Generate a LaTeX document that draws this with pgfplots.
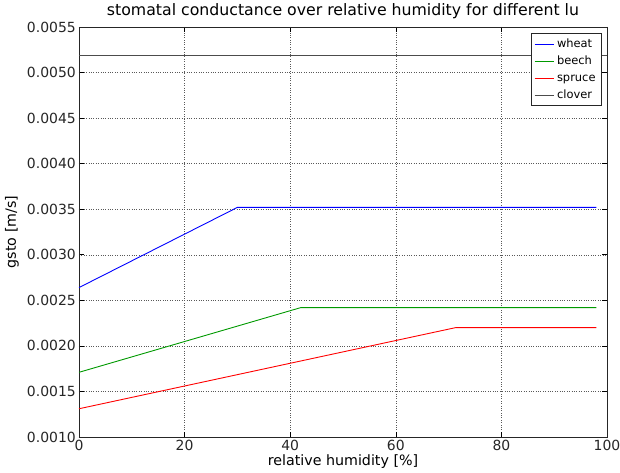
\documentclass[border=0pt]{standalone}
\usepackage{pgfplots}
\pgfplotsset{compat=1.18}
\usepackage{fontspec}
\setmainfont{DejaVu Sans}
\begin{document}
\begin{tikzpicture}
\path[use as bounding box] (-79bp,-36bp) rectangle (541bp,437bp);
\begin{axis}[
  at={(0,0)}, anchor=south west,
  scale only axis,
  width=528bp, height=410bp,
  xmin=0, xmax=100, ymin=0.0010, ymax=0.0055,
  xtick={0,20,40,60,80,100},
  ytick={0.0010,0.0015,0.0020,0.0025,0.0030,0.0035,0.0040,0.0045,0.0050,0.0055},
  scaled y ticks=false,
  yticklabel style={inner sep=3bp, /pgf/number format/.cd, fixed, fixed zerofill, precision=4},
  /pgf/number format/assume math mode=true,
  tick label style={font=\fontsize{14}{16}\selectfont, color=black!85},
  xticklabel style={inner sep=2.5bp},
  tick align=inside,
  major tick length=5bp,
  tick style={black, line width=0.6pt},
  grid=major,
  major grid style={black!65, dotted, line width=0.5pt},
  axis line style={black!85, line width=0.9pt},
  title={stomatal conductance over relative humidity for different lu},
  title style={font=\fontsize{15.8}{18}\selectfont, at={(axis description cs:0.5,1)}, anchor=base, yshift=6bp},
  xlabel={relative humidity [\%]},
  ylabel={gsto [m/s]},
  label style={font=\fontsize{14.3}{16}\selectfont},
  xlabel style={at={(axis description cs:0.5,0)}, anchor=base, yshift=-29bp},
  ylabel style={at={(axis description cs:0,0.5)}, anchor=center, yshift=67bp},
  legend style={font=\fontsize{11.5}{13}\selectfont, draw=black!85, line width=0.8pt,
     inner xsep=3bp, inner ysep=2bp, row sep=0pt,
     at={(axis description cs:0.9905,0.985)}, anchor=north east,
     nodes={text height=8.5bp, text depth=2.5bp, inner sep=3bp}},
  legend cell align=left,
  legend image code/.code={\draw[#1] (0bp,0bp) -- (19bp,0bp);},
  every axis plot/.append style={line width=0.9pt},
]
\addplot[color=blue] coordinates {(0,0.00264) (30,0.00352) (98,0.00352)};
\addlegendentry{wheat}
\addplot[color=green!60!black] coordinates {(0,0.00171) (42,0.00242) (98,0.00242)};
\addlegendentry{beech}
\addplot[color=red] coordinates {(0,0.00131) (71.3,0.00220) (98,0.00220)};
\addlegendentry{spruce}
\addplot[color=black!70] coordinates {(0,0.00519) (100,0.00519)};
\addlegendentry{clover}
\end{axis}
\end{tikzpicture}
\end{document}
